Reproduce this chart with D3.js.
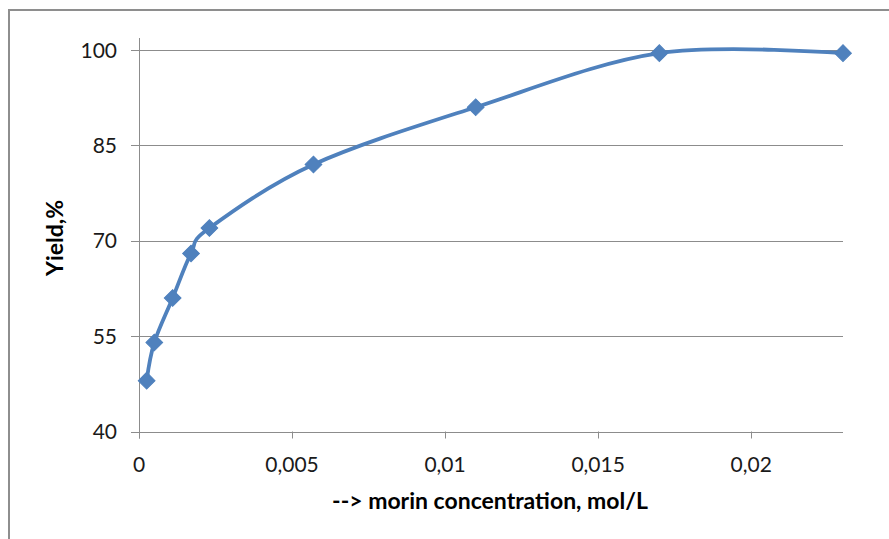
<!DOCTYPE html>
<html><head><meta charset="utf-8">
<script src="https://cdn.jsdelivr.net/npm/d3@7/dist/d3.min.js"></script>
<style>
body{margin:0;background:#fff;}
svg{display:block;font-family:Lato,"Open Sans",sans-serif;}
</style></head>
<body><svg id="c" width="889" height="539"></svg>
<script>
const concentration = [0.00025, 0.0005, 0.0011, 0.0017, 0.0023, 0.0057, 0.011, 0.017, 0.023];
const yieldPct = [48, 54, 61, 68, 72, 82, 91, 99.5, 99.5];
const xTicks = [0, 0.005, 0.01, 0.015, 0.02];
const xTickLabels = ["0", "0,005", "0,01", "0,015", "0,02"];
const yTicks = [40, 55, 70, 85, 100];
const xTitle = "--> morin concentration, mol/L";
const yTitle = "Yield,%";

const svg = d3.select("#c");
svg.append("rect").attr("x",9).attr("y",10).attr("width",900).attr("height",560)
  .attr("fill","none").attr("stroke","#8e8e8e").attr("stroke-width",2);

const x = d3.scaleLinear().domain([0,0.023]).range([139,843]);
const y = d3.scaleLinear().domain([40,100]).range([431.5,50]);

svg.append("g").selectAll("line").data(yTicks).join("line")
  .attr("x1",131).attr("x2",843).attr("y1",d=>Math.round(y(d))+0.5).attr("y2",d=>Math.round(y(d))+0.5)
  .attr("stroke","#8c8c8c").attr("stroke-width",1);
svg.append("line").attr("x1",139.5).attr("x2",139.5).attr("y1",y(100)-12).attr("y2",y(40)+7)
  .attr("stroke","#8c8c8c");
svg.append("g").selectAll("line").data(xTicks).join("line")
  .attr("x1",d=>Math.round(x(d))+0.5).attr("x2",d=>Math.round(x(d))+0.5)
  .attr("y1",y(40)).attr("y2",y(40)+7).attr("stroke","#8c8c8c");

svg.append("g").selectAll("text").data(yTicks).join("text")
  .attr("x",117).attr("y",d=>y(d)).attr("dy","0.36em").attr("text-anchor","end")
  .attr("font-size",21).attr("fill","#1a1a1a").text(d=>d);
svg.append("g").selectAll("text").data(xTicks).join("text")
  .attr("x",d=>x(d)).attr("y",472).attr("text-anchor","middle")
  .attr("font-size",21).attr("fill","#1a1a1a").text((d,i)=>xTickLabels[i]);

svg.append("text").attr("x",490).attr("y",509).attr("text-anchor","middle")
  .attr("font-size",23).attr("font-weight","bold").attr("fill","#000").text(xTitle);
svg.append("text").attr("transform","translate(63,238) rotate(-90)").attr("text-anchor","middle")
  .attr("font-size",23).attr("font-weight","bold").attr("fill","#000").text(yTitle);

const pts = concentration.map((c,i)=>[c,yieldPct[i]]);
const line = d3.line().x(d=>x(d[0])).y(d=>y(d[1])).curve(d3.curveCardinal.tension(0));
svg.append("path").attr("d",line(pts)).attr("fill","none").attr("stroke","#4f81bd").attr("stroke-width",3.8);
svg.append("g").selectAll("path").data(pts).join("path")
  .attr("transform",d=>`translate(${x(d[0])},${y(d[1])}) rotate(45)`)
  .attr("d",d3.symbol().type(d3.symbolSquare).size(140)).attr("fill","#4f81bd").attr("stroke","#4f81bd").attr("stroke-width",1);
</script></body></html>
